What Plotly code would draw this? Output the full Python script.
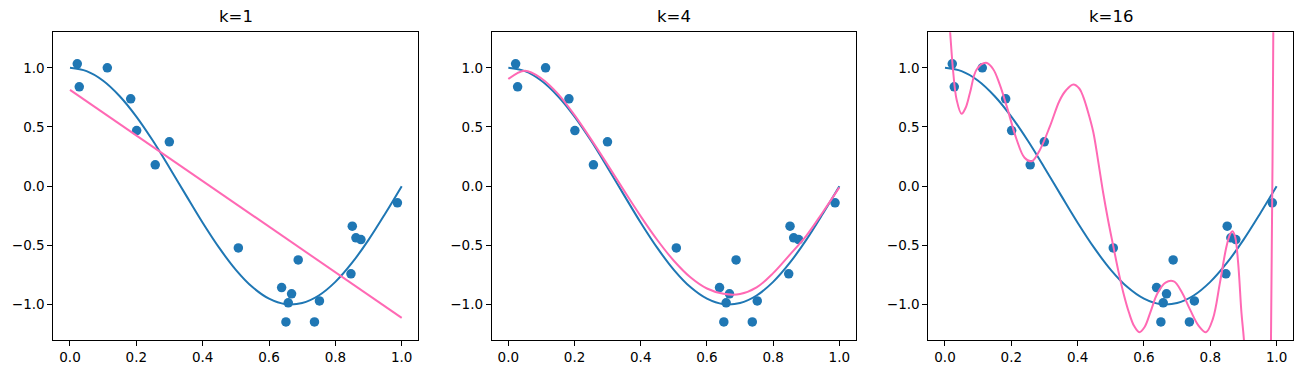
import plotly.graph_objects as go

# ---- data ----
titles = ["k=1", "k=4", "k=16"]

sample_x = [0.022, 0.028, 0.1125, 0.183, 0.201, 0.257, 0.2995, 0.5075, 0.638, 0.658,
            0.651, 0.668, 0.688, 0.737, 0.752, 0.847, 0.851, 0.862, 0.877, 0.987]
sample_y = [1.034, 0.839, 1.000, 0.738, 0.470, 0.180, 0.3745, -0.522, -0.857, -0.986,
            -1.147, -0.910, -0.623, -1.147, -0.970, -0.741, -0.338, -0.437, -0.451, -0.141]

true_x = [0.00, 0.05, 0.10, 0.15, 0.20, 0.25, 0.30, 0.35, 0.40, 0.45, 0.50,
          0.55, 0.60, 0.65, 0.70, 0.75, 0.80, 0.85, 0.90, 0.95, 1.00]
true_y = [1.000, 0.972, 0.891, 0.760, 0.588, 0.383, 0.156, -0.078, -0.309, -0.522, -0.707,
          -0.853, -0.951, -0.997, -0.988, -0.924, -0.809, -0.649, -0.454, -0.233, 0.000]

fit1_x = [0.0, 0.25, 0.5, 0.75, 1.0]
fit1_y = [0.814, 0.332, -0.150, -0.632, -1.113]

fit4_x = [0.00, 0.05, 0.10, 0.15, 0.20, 0.25, 0.30, 0.35, 0.40, 0.45, 0.50,
          0.55, 0.60, 0.65, 0.70, 0.75, 0.80, 0.85, 0.90, 0.95, 1.00]
fit4_y = [0.905, 0.975, 0.910, 0.780, 0.600, 0.395, 0.180, -0.040, -0.255, -0.455, -0.630,
          -0.770, -0.865, -0.910, -0.912, -0.856, -0.735, -0.580, -0.420, -0.220, -0.010]

fit16_x = [0.000, 0.005, 0.010, 0.015, 0.025, 0.035, 0.050, 0.062, 0.0754, 0.0955, 0.124,
           0.145, 0.165, 0.186, 0.216, 0.240, 0.262, 0.285, 0.3166, 0.345, 0.365, 0.387,
           0.405, 0.417, 0.430, 0.447, 0.462, 0.477, 0.492, 0.5075, 0.523, 0.538, 0.555,
           0.570, 0.586, 0.602, 0.620, 0.640, 0.665, 0.690, 0.715, 0.739, 0.765, 0.787,
           0.808, 0.829, 0.849, 0.860, 0.867, 0.875, 0.884, 0.894, 0.9015, 0.915, 0.935,
           0.955, 0.972, 0.983, 0.990, 0.995, 1.000]
fit16_y = [2.40, 1.85, 1.50, 1.32, 0.958, 0.732, 0.611, 0.660, 0.789, 0.986, 1.042,
           0.990, 0.860, 0.676, 0.394, 0.240, 0.211, 0.300, 0.507, 0.720, 0.810, 0.859,
           0.825, 0.755, 0.640, 0.460, 0.210, -0.056, -0.290, -0.507, -0.720, -0.902, -1.070,
           -1.180, -1.234, -1.190, -1.060, -0.910, -0.815, -0.805, -0.900, -1.043, -1.180, -1.234,
           -1.120, -0.817, -0.507, -0.405, -0.381, -0.430, -0.648, -1.070, -1.30, -2.00, -3.20,
           -3.60, -2.80, -1.30, 1.30, 3.50, 6.50]

fits_x = [fit1_x, fit4_x, fit16_x]
fits_y = [fit1_y, fit4_y, fit16_y]

x_ticks = [0.0, 0.2, 0.4, 0.6, 0.8, 1.0]
x_ticktext = ["0.0", "0.2", "0.4", "0.6", "0.8", "1.0"]
y_ticks = [-1.0, -0.5, 0.0, 0.5, 1.0]
y_ticktext = ["\u22121.0", "\u22120.5", "0.0", "0.5", "1.0"]

# ---- figure ----
W, H = 1303, 374
blue = "#1f77b4"
pink = "#ff69b4"
font_family = "DejaVu Sans"

x_domains = [[53.4 / W, 418.3 / W], [491.8 / W, 855.9 / W], [928.4 / W, 1293.2 / W]]
y_domain = [(H - 340.0) / H, (H - 32.3) / H]

fig = go.Figure()
layout = dict(
    width=W, height=H,
    margin=dict(l=0, r=0, t=0, b=0),
    paper_bgcolor="white", plot_bgcolor="white",
    showlegend=False,
    font=dict(family=font_family, color="black", size=14),
    annotations=[],
)

for i in range(3):
    suffix = "" if i == 0 else str(i + 1)
    xa = "x" + suffix
    ya = "y" + suffix
    fig.add_trace(go.Scatter(x=true_x, y=true_y, mode="lines",
                             line=dict(color=blue, width=2.0, shape="spline"),
                             xaxis=xa, yaxis=ya))
    fig.add_trace(go.Scatter(x=sample_x, y=sample_y, mode="markers",
                             marker=dict(color=blue, size=9.5, line=dict(width=0)),
                             xaxis=xa, yaxis=ya))
    fig.add_trace(go.Scatter(x=fits_x[i], y=fits_y[i], mode="lines",
                             line=dict(color=pink, width=2.0,
                                       shape="linear" if i == 0 else "spline"),
                             xaxis=xa, yaxis=ya))
    axis_common = dict(showline=True, mirror=True, linecolor="black", linewidth=1.1,
                       ticks="outside", ticklen=5, tickwidth=1.1, tickcolor="black",
                       showgrid=False, zeroline=False,
                       tickfont=dict(family=font_family, size=13.5, color="black"))
    layout["xaxis" + suffix] = dict(domain=x_domains[i], range=[-0.05, 1.05],
                                    tickvals=x_ticks, ticktext=x_ticktext,
                                    anchor=ya, **axis_common)
    layout["yaxis" + suffix] = dict(domain=y_domain, range=[-1.3, 1.3],
                                    tickvals=y_ticks, ticktext=y_ticktext,
                                    anchor=xa, **axis_common)
    layout["annotations"].append(dict(
        text=titles[i], xref="paper", yref="paper",
        x=(x_domains[i][0] + x_domains[i][1]) / 2, y=(H - 16.5) / H,
        xanchor="center", yanchor="middle", showarrow=False,
        font=dict(family=font_family, size=16.5, color="black")))

fig.update_layout(**layout)
fig.write_html("out.html",
               config={"displayModeBar": False},
               post_script="document.body.style.margin='0';document.body.style.overflow='hidden';")
